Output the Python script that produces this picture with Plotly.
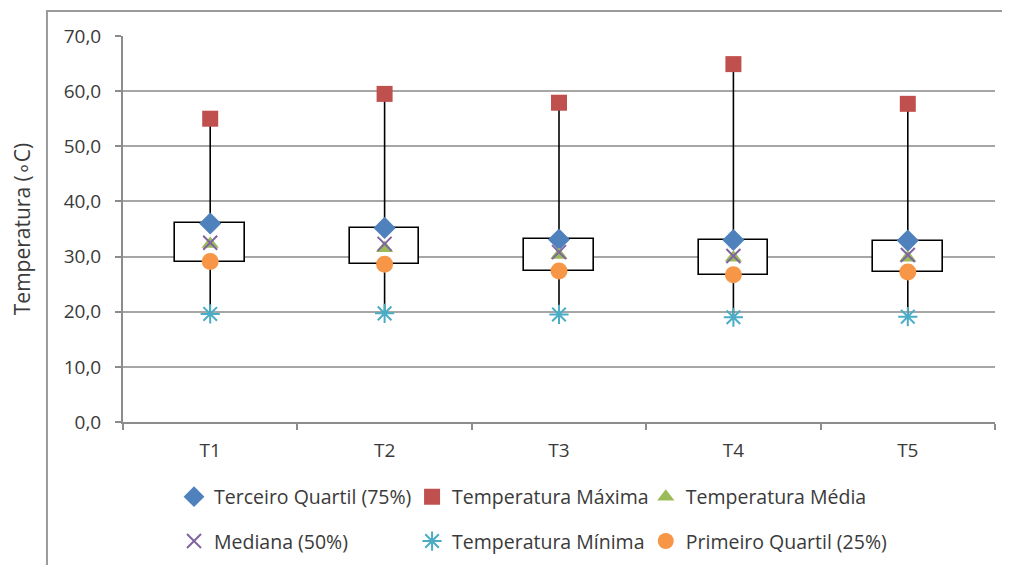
import plotly.graph_objects as go

categories = ["T1", "T2", "T3", "T4", "T5"]
t_max = [55.0, 59.5, 57.9, 64.9, 57.7]
q3 = [36.0, 35.2, 33.1, 33.0, 32.9]
median = [32.5, 32.3, 30.8, 30.1, 30.3]
mean = [32.3, 31.5, 30.3, 29.8, 29.8]
q1 = [29.1, 28.6, 27.4, 26.7, 27.2]
t_min = [19.6, 19.7, 19.5, 19.0, 19.1]

FONT = "Open Sans"
TXT = "#3a3a3a"
FS = 19

fig = go.Figure()

# whiskers: min->Q1 and Q3->max
wx, wy = [], []
for c, lo, a, b, hi in zip(categories, t_min, q1, q3, t_max):
    wx += [c, c, None, c, c, None]
    wy += [lo, a, None, b, hi, None]
fig.add_trace(go.Scatter(x=wx, y=wy, mode="lines", line=dict(color="black", width=1.6),
                         showlegend=False, hoverinfo="skip"))

# boxes Q1..Q3
fig.add_trace(go.Bar(x=categories, y=[b - a for a, b in zip(q1, q3)], base=q1, width=0.4,
                     marker=dict(color="white", line=dict(color="black", width=1.6)),
                     showlegend=False, hoverinfo="skip"))

series = [
    ("Terceiro Quartil (75%)", q3, "diamond", "#4F81BD", 17, "legend"),
    ("Temperatura Máxima", t_max, "square", "#C0504D", 16, "legend2"),
    ("Temperatura Média", mean, "triangle-up", "#9BBB59", 15, "legend3"),
    ("Mediana (50%)", median, "x-thin-open", "#8064A2", 14, "legend"),
    ("Temperatura Mínima", t_min, "asterisk-open", "#4BACC6", 16, "legend2"),
    ("Primeiro Quartil (25%)", q1, "circle", "#F79646", 17, "legend3"),
]
for i, (name, vals, sym, col, size, lg) in enumerate(series):
    fig.add_trace(go.Scatter(
        x=categories, y=vals, mode="markers", name=name, legend=lg, legendgroup=f"g{i}",
        marker=dict(symbol=sym, color=col, size=size,
                    line=dict(color=col, width=2 if "open" in sym else 0)),
    ))

legend_common = dict(
    orientation="v", xanchor="left", yanchor="middle", y=-0.2513,
    tracegroupgap=16,
    font=dict(family=FONT, size=19.5, color=TXT), bgcolor="rgba(0,0,0,0)",
    itemclick=False,
)

fig.update_layout(
    width=1010, height=565,
    margin=dict(l=115, r=23, t=28, b=151),
    paper_bgcolor="white", plot_bgcolor="white",
    separators=",.",
    bargap=0,
    font=dict(family=FONT, color=TXT),
    legend=dict(x=0.0585, **legend_common),
    legend2=dict(x=0.3315, **legend_common),
    legend3=dict(x=0.5995, **legend_common),
    xaxis=dict(
        type="category", showgrid=False, showline=True, linecolor="#8c8c8c", linewidth=2,
        ticks="outside", tickson="boundaries", ticklen=6, tickcolor="#8c8c8c", tickwidth=2,
        ticklabelstandoff=10, automargin=False,
        tickfont=dict(family=FONT, size=FS, color=TXT), range=[-0.5, 4.5],
    ),
    yaxis=dict(
        range=[0, 70], dtick=10, tickformat=".1f", automargin=False,
        showgrid=True, gridcolor="#a6a6a6", gridwidth=1.5, zeroline=False,
        showline=True, linecolor="#8c8c8c", linewidth=2,
        ticks="outside", ticklen=6, tickcolor="#8c8c8c", tickwidth=2,
        ticklabelstandoff=10,
        tickfont=dict(family=FONT, size=FS, color=TXT),
        title=dict(text="Temperatura (∘C)", font=dict(family=FONT, size=21, color=TXT), standoff=28),
    ),
    shapes=[dict(type="path", xref="paper", yref="paper",
                 path="M -0.0872,-0.5 L -0.0872,1.0648 L 1.1,1.0648",
                 line=dict(color="#9a9a9a", width=2))],
)

fig.write_html("out.html")
